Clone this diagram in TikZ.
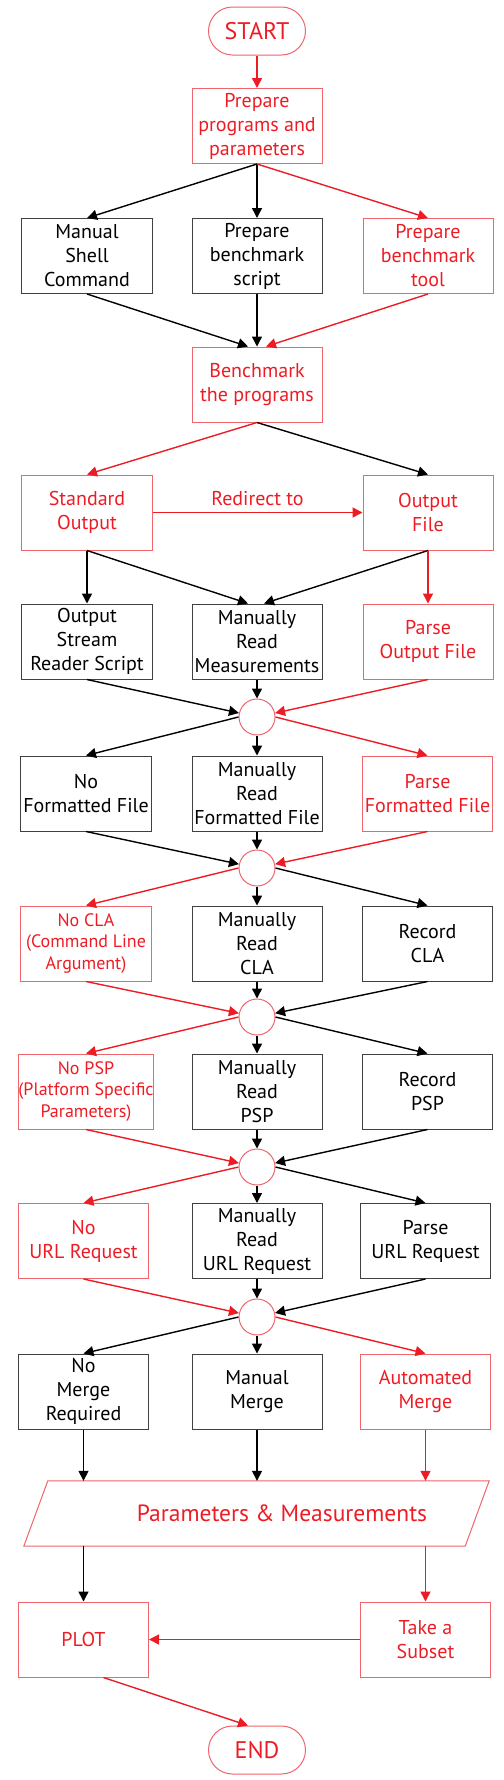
\documentclass[tikz,border=0pt]{standalone}
\usepackage{fontspec}
\setmainfont{PT Sans}
\usetikzlibrary{arrows.meta}
\definecolor{myred}{HTML}{ED1C24}
\definecolor{redline}{HTML}{F0646C}
\definecolor{boxgray}{HTML}{404040}
\tikzset{
 box/.style={draw=boxgray, line width=1bp, minimum width=130bp, minimum height=75bp, align=center, inner sep=0pt, font=\fontsize{20bp}{24bp}\selectfont},
 rbox/.style={box, draw=redline, text=myred},
 smallred/.style={rbox, font=\fontsize{18bp}{21.5bp}\selectfont},
 term/.style={draw=redline, line width=1bp, rounded corners=24bp, minimum width=97bp, minimum height=48bp, inner sep=0pt, text=myred, font=\fontsize{24bp}{28bp}\selectfont},
 junc/.style={circle, draw=redline, line width=1bp, minimum size=36bp, inner sep=0pt},
 arr/.style={-{Triangle[length=10bp,width=10bp]}, line width=1.4bp, black},
 rarr/.style={arr, myred},
}
\begin{document}
\begin{tikzpicture}[x=1bp,y=-1bp]
\useasboundingbox (0,0) rectangle (504,1780);
% nodes
\node[term] (start) at (257,31) {START};
\node[rbox] (prep) at (257,126) {Prepare\\programs and\\parameters};
\node[box] (msc) at (87,256) {Manual\\Shell\\Command};
\node[box] (pbs) at (257,256) {Prepare\\benchmark\\script};
\node[rbox] (pbt) at (428,256) {Prepare\\benchmark\\tool};
\node[rbox] (bench) at (257,384.5) {Benchmark\\the programs};
\node[rbox] (so) at (87,512.5) {Standard\\Output};
\node[rbox] (of) at (428,512.5) {Output\\File};
\node[box] (osr) at (87,641.5) {Output\\Stream\\Reader Script};
\node[box] (mrm) at (257,641.5) {Manually\\Read\\Measurements};
\node[rbox] (pof) at (428,641.5) {Parse\\Output File};
\node[junc] (c1) at (257,717) {};
\node[box] (nff) at (86,793.5) {No\\Formatted File};
\node[box] (mrf) at (257,793.5) {Manually\\Read\\Formatted File};
\node[rbox] (pff) at (427.5,793.5) {Parse\\Formatted File};
\node[junc] (c2) at (257,868) {};
\node[smallred] (ncla) at (86,943.5) {No CLA\\(Command Line\\Argument)};
\node[box] (mrcla) at (257,943.5) {Manually\\Read\\CLA};
\node[box] (rcla) at (427.5,943.5) {Record\\CLA};
\node[junc] (c3) at (257,1017) {};
\node[smallred] (npsp) at (86,1091.5) {No PSP\\(Platform Specific\\Parameters)};
\node[box] (mrpsp) at (257,1091.5) {Manually\\Read\\PSP};
\node[box] (rpsp) at (427.5,1091.5) {Record\\PSP};
\node[junc] (c4) at (257,1167) {};
\node[rbox] (nurl) at (83.5,1241) {No\\URL Request};
\node[box] (mrurl) at (257,1241) {Manually\\Read\\URL Request};
\node[box] (purl) at (425.5,1241) {Parse\\URL Request};
\node[junc] (c5) at (257,1317) {};
\node[box] (nmr) at (83.5,1391.5) {No\\Merge\\Required};
\node[box] (mm) at (257,1391.5) {Manual\\Merge};
\node[rbox] (am) at (425.5,1391.5) {Automated\\Merge};
\node[minimum width=465bp, minimum height=65bp, inner sep=0pt] (pm) at (256.5,1513.5) {};
\draw[redline, line width=1bp] ([xshift=24bp]pm.north west) -- (pm.north east) -- ([xshift=-24bp]pm.south east) -- (pm.south west) -- cycle;
\node[text=myred, font=\fontsize{23.5bp}{28bp}\selectfont] (pmt) at (282,1513) {Parameters \& Measurements};
\node[rbox] (plot) at (83.5,1639.5) {PLOT};
\node[rbox] (tas) at (425.5,1639.5) {Take a\\Subset};
\node[term] (end) at (257,1750) {END};
% edges
\draw[rarr] (start) -- (prep);
\draw[arr] (prep.south) -- (msc.north);
\draw[arr] (prep.south) -- (pbs.north);
\draw[rarr] (prep.south) -- (pbt.north);
\draw[arr] (msc.south) -- ([xshift=-9bp]bench.north);
\draw[arr] (pbs.south) -- (bench.north);
\draw[rarr] (pbt.south) -- ([xshift=9bp]bench.north);
\draw[rarr] (bench.south) -- (so.north);
\draw[arr] (bench.south) -- (of.north);
\draw[rarr] (so.east) -- node[midway, yshift=13.5bp, text=myred, font=\fontsize{20bp}{24bp}\selectfont] {Redirect to} (of.west);
\draw[arr] (so.south) -- (osr.north);
\draw[arr] (so.south) -- ([xshift=-9bp]mrm.north);
\draw[arr] (of.south) -- ([xshift=7bp]mrm.north);
\draw[rarr] (of.south) -- (pof.north);
\draw[arr] (osr.south) -- (c1);
\draw[arr] (mrm.south) -- (c1);
\draw[rarr] (pof.south) -- (c1);
\draw[arr] (c1.west) -- (nff.north);
\draw[arr] (c1.south) -- (mrf.north);
\draw[rarr] (c1.east) -- (pff.north);
\draw[arr] (nff.south) -- (c2);
\draw[arr] (mrf.south) -- (c2);
\draw[rarr] (pff.south) -- (c2);
\draw[rarr] (c2.west) -- (ncla.north);
\draw[arr] (c2.south) -- (mrcla.north);
\draw[arr] (c2.east) -- (rcla.north);
\draw[rarr] (ncla.south) -- (c3);
\draw[arr] (mrcla.south) -- (c3);
\draw[arr] (rcla.south) -- (c3);
\draw[rarr] (c3.west) -- (npsp.north);
\draw[arr] (c3.south) -- (mrpsp.north);
\draw[arr] (c3.east) -- (rpsp.north);
\draw[rarr] (npsp.south) -- (c4);
\draw[arr] (mrpsp.south) -- (c4);
\draw[arr] (rpsp.south) -- (c4);
\draw[rarr] (c4.west) -- (nurl.north);
\draw[arr] (c4.south) -- (mrurl.north);
\draw[arr] (c4.east) -- (purl.north);
\draw[rarr] (nurl.south) -- (c5);
\draw[arr] (mrurl.south) -- (c5);
\draw[arr] (purl.south) -- (c5);
\draw[arr] (c5.west) -- (nmr.north);
\draw[arr] (c5.south) -- (mm.north);
\draw[rarr] (c5.east) -- (am.north);
\draw[arr] (nmr.south) -- (nmr.south |- pm.north);
\draw[arr] (mm.south) -- (mm.south |- pm.north);
\draw[rarr] (am.south) -- (am.south |- pm.north);
\draw[arr] (plot.north |- pm.south) -- (plot.north);
\draw[rarr] (tas.north |- pm.south) -- (tas.north);
\draw[rarr] (tas.west) -- (plot.east);
\draw[rarr] ([xshift=20bp]plot.south) -- ([xshift=-9bp]end.north);
\end{tikzpicture}
\end{document}
